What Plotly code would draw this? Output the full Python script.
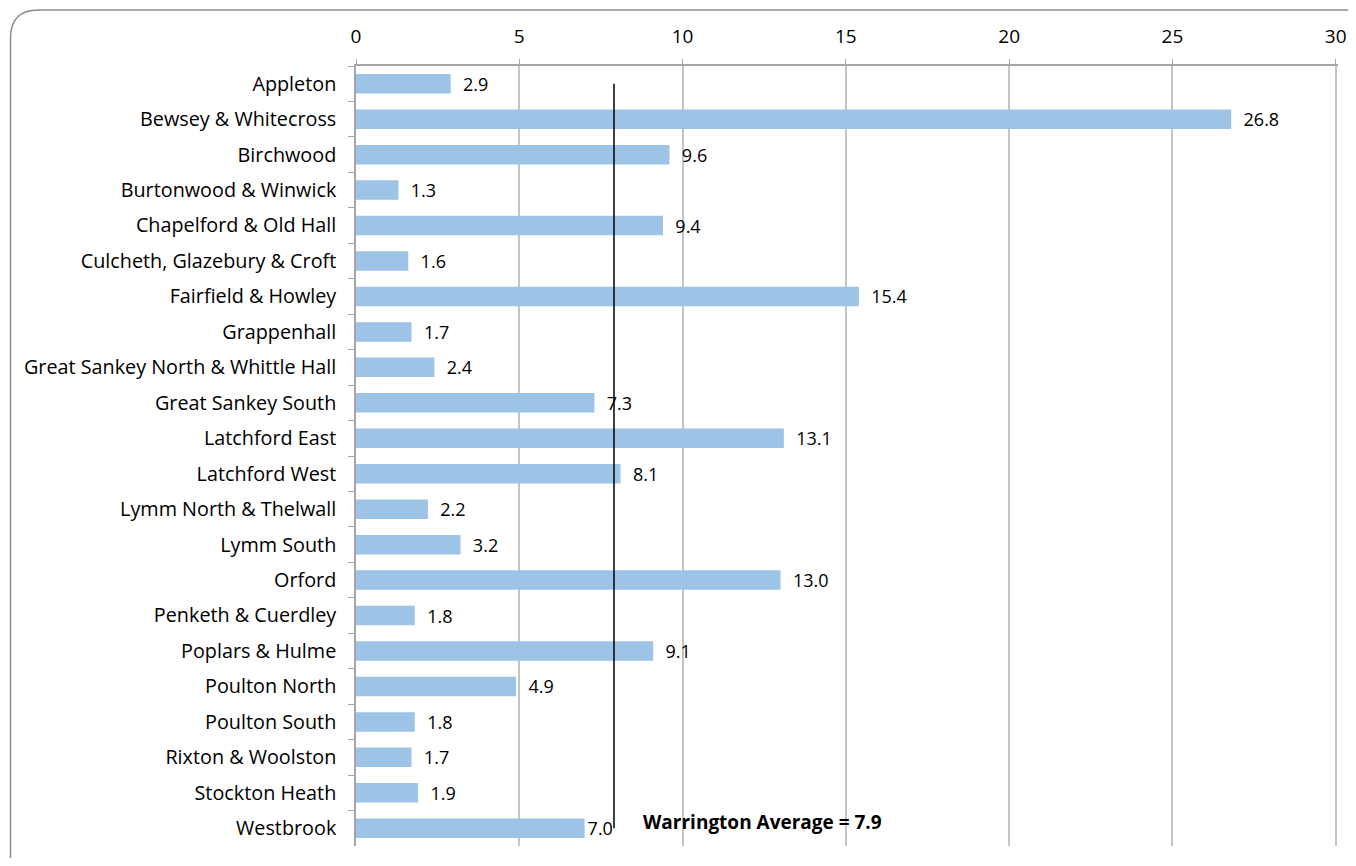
import plotly.graph_objects as go

wards = ["Appleton", "Bewsey & Whitecross", "Birchwood", "Burtonwood & Winwick",
         "Chapelford & Old Hall", "Culcheth, Glazebury & Croft", "Fairfield & Howley",
         "Grappenhall", "Great Sankey North & Whittle Hall", "Great Sankey South",
         "Latchford East", "Latchford West", "Lymm North & Thelwall", "Lymm South",
         "Orford", "Penketh & Cuerdley", "Poplars & Hulme", "Poulton North",
         "Poulton South", "Rixton & Woolston", "Stockton Heath", "Westbrook"]
values = [2.9, 26.8, 9.6, 1.3, 9.4, 1.6, 15.4, 1.7, 2.4, 7.3, 13.1, 8.1, 2.2, 3.2,
          13.0, 1.8, 9.1, 4.9, 1.8, 1.7, 1.9, 7.0]
average = 7.9
x_ticks = [0, 5, 10, 15, 20, 25, 30]

OFF = 8  # default page body margin
W, H = 1340, 850
L, R, T, B = 348, 10, 58, 12
pw, ph = W - L - R, H - T - B
FONT = "Open Sans"
FS = 19.8

def px(x):
    return (x - OFF - L) / pw

def py(y):
    return (H - B - (y - OFF)) / ph

labels = ["\u00a0\u00a0" + f"{v:.1f}" for v in values]
labels[-1] = f"{values[-1]:.1f}"

fig = go.Figure()
fig.add_trace(go.Bar(
    x=values, y=wards, orientation="h",
    marker=dict(color="#9DC3E6", line=dict(width=0)),
    text=labels, textposition="outside", constraintext="none",
    textfont=dict(size=18, color="#000000", family=FONT),
    cliponaxis=False, hoverinfo="x+y",
))
fig.add_trace(go.Scatter(
    x=[average, average], y=[wards[0], wards[-1]], mode="lines",
    line=dict(color="#000000", width=1.5), hoverinfo="skip", showlegend=False,
))

# rounded border (extends past the right and bottom page edges)
x0, x1, y0, y1, r = px(10.5), px(1375), py(10), py(885), 28
rx, ry = r / pw, r / ph
path = (f"M {x0+rx},{y0} L {x1-rx},{y0} Q {x1},{y0} {x1},{y0-ry} "
        f"L {x1},{y1+ry} Q {x1},{y1} {x1-rx},{y1} "
        f"L {x0+rx},{y1} Q {x0},{y1} {x0},{y1+ry} "
        f"L {x0},{y0-ry} Q {x0},{y0} {x0+rx},{y0} Z")
fig.add_shape(type="path", path=path, xref="paper", yref="paper",
              line=dict(color="#8c8c8c", width=1.5), layer="below")

fig.add_annotation(x=average, y=wards[-1], xref="x", yref="y",
                   text="<b>Warrington Average = 7.9</b>", showarrow=False,
                   xanchor="left", xshift=27, yshift=6,
                   font=dict(size=19, color="#000000", family=FONT))

fig.update_layout(
    width=W, height=H,
    margin=dict(l=L, r=R, t=T, b=B, autoexpand=False),
    paper_bgcolor="#ffffff", plot_bgcolor="#ffffff",
    showlegend=False, bargap=0.45,
    font=dict(family=FONT, size=FS, color="#000000"),
    xaxis=dict(side="top", range=[0, 30.07], tickvals=x_ticks, automargin=False,
               showgrid=True, gridcolor="#c4c4c4", gridwidth=1.5,
               showline=True, linecolor="#a6a6a6", linewidth=1.5,
               ticks="outside", ticklen=5, tickcolor="#a6a6a6",
               ticklabelstandoff=9, ticklabeloverflow="allow",
               zeroline=False, tickfont=dict(size=19), fixedrange=True),
    yaxis=dict(range=[len(wards) - 0.5, -0.5], automargin=False,
               showline=True, linecolor="#a6a6a6",
               linewidth=1.5, ticks="outside", tickson="boundaries",
               ticklen=6, tickcolor="#a6a6a6", showgrid=False,
               ticklabelstandoff=14, tickfont=dict(size=FS)),
)

fig.write_html("out.html")
